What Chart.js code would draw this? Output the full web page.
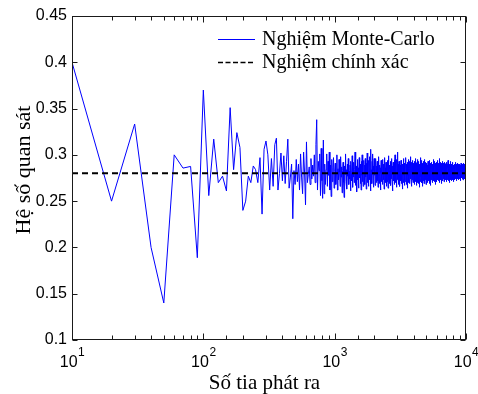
<!DOCTYPE html>
<html>
<head>
<meta charset="utf-8">
<script src="https://cdn.jsdelivr.net/npm/chart.js@4.4.1/dist/chart.umd.min.js"></script>
<style>
  html, body { margin: 0; padding: 0; background: #ffffff; }
  #c { display: block; }
</style>
</head>
<body>
<canvas id="c" width="478" height="394"></canvas>
<script>
// ---------------- DATA ----------------
const seriesLabels = ['Nghiệm Monte-Carlo', 'Nghiệm chính xác'];
const xAxisTitle = 'Số tia phát ra';
const yAxisTitle = 'Hệ số quan sát';

// number of rays: 10, 20, 30, ... 10000 (step 10)
const rayStep = 10;

// Monte-Carlo estimate for each ray count (read/estimated from the picture)
const monteCarloValues = [
  // 10 - 100
  0.4, 0.25, 0.3333, 0.2, 0.14, 0.3, 0.2857, 0.2875, 0.1889, 0.37,
  // 110 - 200
  0.256, 0.317, 0.270, 0.277, 0.261, 0.351, 0.284, 0.324, 0.308, 0.240,
  // 210 - 300
  0.250, 0.277, 0.270, 0.288, 0.284, 0.270, 0.297, 0.236, 0.306, 0.315,
  // 310 - 1000
  0.300, 0.262, 0.296, 0.266, 0.311, 0.318, 0.262, 0.280, 0.302, 0.272,
  0.299, 0.269, 0.293, 0.317, 0.264, 0.276, 0.290, 0.231, 0.283, 0.268,
  0.295, 0.271, 0.290, 0.262, 0.301, 0.276, 0.258, 0.303, 0.281, 0.246,
  0.314, 0.270, 0.279, 0.287, 0.268, 0.296, 0.274, 0.289, 0.277, 0.300,
  0.270, 0.311, 0.338, 0.262, 0.293, 0.283, 0.301, 0.256, 0.307, 0.272,
  0.253, 0.316, 0.258, 0.290, 0.268, 0.284, 0.301, 0.266, 0.293, 0.278,
  0.303, 0.262, 0.289, 0.255, 0.295, 0.271, 0.286, 0.297, 0.264, 0.282,
  // 1010 - 2000
  0.291, 0.268, 0.279, 0.300, 0.262, 0.285, 0.273, 0.295, 0.281, 0.266,
  0.298, 0.276, 0.287, 0.259, 0.283, 0.292, 0.270, 0.254, 0.288, 0.279,
  0.301, 0.271, 0.284, 0.263, 0.290, 0.277, 0.296, 0.268, 0.282, 0.274,
  0.289, 0.261, 0.293, 0.280, 0.272, 0.299, 0.265, 0.286, 0.276, 0.292,
  0.270, 0.284, 0.303, 0.267, 0.279, 0.288, 0.260, 0.283, 0.295, 0.273,
  0.286, 0.264, 0.281, 0.297, 0.275, 0.290, 0.269, 0.284, 0.262, 0.293,
  0.278, 0.300, 0.271, 0.287, 0.266, 0.282, 0.294, 0.274, 0.289, 0.268,
  0.296, 0.276, 0.283, 0.263, 0.291, 0.279, 0.302, 0.270, 0.285, 0.277,
  0.266, 0.294, 0.281, 0.273, 0.298, 0.286, 0.261, 0.290, 0.306, 0.275,
  0.284, 0.269, 0.293, 0.279, 0.301, 0.272, 0.288, 0.265, 0.283, 0.296,
  // 2010 - 3000
  0.278, 0.290, 0.267, 0.285, 0.274, 0.296, 0.281, 0.270, 0.288, 0.276,
  0.293, 0.272, 0.283, 0.265, 0.287, 0.279, 0.298, 0.275, 0.284, 0.269,
  0.289, 0.277, 0.262, 0.286, 0.280, 0.294, 0.271, 0.283, 0.291, 0.274,
  0.282, 0.268, 0.295, 0.278, 0.287, 0.273, 0.290, 0.263, 0.284, 0.279,
  0.297, 0.276, 0.286, 0.270, 0.281, 0.292, 0.266, 0.288, 0.275, 0.283,
  0.271, 0.294, 0.280, 0.287, 0.264, 0.285, 0.277, 0.299, 0.273, 0.282,
  0.289, 0.269, 0.284, 0.276, 0.293, 0.278, 0.286, 0.267, 0.290, 0.280,
  0.274, 0.296, 0.283, 0.271, 0.288, 0.261, 0.285, 0.279, 0.292, 0.276,
  0.287, 0.272, 0.281, 0.294, 0.268, 0.284, 0.278, 0.300, 0.275, 0.286,
  0.270, 0.283, 0.291, 0.277, 0.288, 0.265, 0.282, 0.295, 0.273, 0.285,
  // 3010 - 4000
  0.279, 0.303, 0.274, 0.287, 0.268, 0.290, 0.281, 0.276, 0.293, 0.271,
  0.286, 0.278, 0.291, 0.266, 0.284, 0.275, 0.289, 0.280, 0.272, 0.294,
  0.282, 0.269, 0.287, 0.277, 0.292, 0.273, 0.285, 0.263, 0.288, 0.279,
  0.290, 0.274, 0.283, 0.296, 0.270, 0.286, 0.278, 0.291, 0.267, 0.284,
  0.276, 0.289, 0.281, 0.271, 0.293, 0.279, 0.286, 0.274, 0.297, 0.280,
  0.268, 0.285, 0.277, 0.290, 0.282, 0.272, 0.288, 0.264, 0.284, 0.292,
  0.278, 0.287, 0.270, 0.283, 0.295, 0.276, 0.281, 0.289, 0.273, 0.286,
  0.280, 0.293, 0.269, 0.285, 0.277, 0.290, 0.274, 0.282, 0.298, 0.275,
  0.287, 0.271, 0.284, 0.279, 0.292, 0.266, 0.286, 0.280, 0.273, 0.289,
  0.283, 0.276, 0.294, 0.278, 0.270, 0.288, 0.281, 0.291, 0.274, 0.285,
  // 4010 - 5000
  0.279, 0.290, 0.272, 0.286, 0.277, 0.293, 0.268, 0.284, 0.280, 0.288,
  0.275, 0.283, 0.296, 0.271, 0.287, 0.279, 0.291, 0.274, 0.285, 0.267,
  0.289, 0.281, 0.273, 0.292, 0.278, 0.286, 0.270, 0.284, 0.295, 0.276,
  0.282, 0.290, 0.269, 0.287, 0.279, 0.274, 0.293, 0.281, 0.286, 0.272,
  0.288, 0.277, 0.284, 0.265, 0.290, 0.280, 0.275, 0.297, 0.283, 0.278,
  0.271, 0.286, 0.292, 0.276, 0.283, 0.289, 0.273, 0.281, 0.294, 0.277,
  0.285, 0.270, 0.288, 0.279, 0.291, 0.274, 0.284, 0.266, 0.287, 0.282,
  0.276, 0.293, 0.280, 0.272, 0.289, 0.283, 0.277, 0.290, 0.269, 0.285,
  0.281, 0.288, 0.274, 0.295, 0.279, 0.286, 0.271, 0.284, 0.278, 0.292,
  0.273, 0.287, 0.282, 0.276, 0.290, 0.268, 0.285, 0.280, 0.289, 0.275,
  // 5010 - 6000
  0.284, 0.278, 0.291, 0.273, 0.286, 0.281, 0.276, 0.289, 0.270, 0.283,
  0.287, 0.275, 0.282, 0.293, 0.279, 0.272, 0.288, 0.280, 0.285, 0.274,
  0.290, 0.277, 0.283, 0.269, 0.286, 0.281, 0.294, 0.276, 0.284, 0.279,
  0.272, 0.288, 0.280, 0.285, 0.275, 0.291, 0.278, 0.283, 0.267, 0.286,
  0.282, 0.276, 0.289, 0.279, 0.284, 0.273, 0.292, 0.280, 0.277, 0.287,
  0.274, 0.285, 0.281, 0.290, 0.278, 0.283, 0.270, 0.288, 0.282, 0.276,
  0.289, 0.279, 0.286, 0.272, 0.284, 0.295, 0.277, 0.281, 0.287, 0.274,
  0.283, 0.290, 0.276, 0.285, 0.279, 0.271, 0.288, 0.282, 0.275, 0.293,
  0.280, 0.286, 0.273, 0.284, 0.291, 0.277, 0.282, 0.288, 0.268, 0.285,
  0.278, 0.292, 0.281, 0.275, 0.287, 0.283, 0.276, 0.290, 0.279, 0.284,
  // 6010 - 7000
  0.271, 0.286, 0.282, 0.289, 0.277, 0.284, 0.294, 0.274, 0.281, 0.287,
  0.279, 0.273, 0.288, 0.283, 0.276, 0.291, 0.280, 0.285, 0.272, 0.289,
  0.284, 0.278, 0.282, 0.296, 0.275, 0.286, 0.279, 0.270, 0.287, 0.281,
  0.276, 0.290, 0.283, 0.278, 0.288, 0.274, 0.285, 0.281, 0.292, 0.277,
  0.286, 0.280, 0.273, 0.289, 0.282, 0.277, 0.284, 0.291, 0.269, 0.285,
  0.281, 0.287, 0.276, 0.283, 0.290, 0.279, 0.274, 0.288, 0.282, 0.278,
  0.293, 0.275, 0.285, 0.280, 0.286, 0.272, 0.289, 0.283, 0.277, 0.284,
  0.279, 0.288, 0.274, 0.291, 0.281, 0.286, 0.276, 0.283, 0.287, 0.271,
  0.285, 0.280, 0.290, 0.277, 0.284, 0.278, 0.292, 0.282, 0.275, 0.288,
  0.283, 0.276, 0.286, 0.281, 0.273, 0.289, 0.280, 0.285, 0.278, 0.290,
  // 7010 - 8000
  0.274, 0.287, 0.282, 0.279, 0.291, 0.284, 0.271, 0.286, 0.281, 0.277,
  0.288, 0.283, 0.276, 0.292, 0.280, 0.285, 0.274, 0.289, 0.282, 0.279,
  0.284, 0.273, 0.287, 0.281, 0.278, 0.290, 0.283, 0.276, 0.286, 0.294,
  0.280, 0.285, 0.272, 0.288, 0.282, 0.277, 0.284, 0.279, 0.291, 0.275,
  0.286, 0.281, 0.289, 0.274, 0.283, 0.287, 0.278, 0.282, 0.270, 0.285,
  0.279, 0.290, 0.284, 0.276, 0.288, 0.281, 0.286, 0.273, 0.283, 0.287,
  0.277, 0.282, 0.293, 0.280, 0.275, 0.286, 0.284, 0.279, 0.289, 0.272,
  0.285, 0.281, 0.278, 0.290, 0.283, 0.274, 0.287, 0.282, 0.276, 0.288,
  0.284, 0.279, 0.286, 0.273, 0.289, 0.283, 0.280, 0.291, 0.277, 0.285,
  0.281, 0.288, 0.275, 0.284, 0.279, 0.292, 0.282, 0.276, 0.286, 0.280,
  // 8010 - 9000
  0.287, 0.274, 0.283, 0.289, 0.278, 0.285, 0.281, 0.271, 0.288, 0.284,
  0.279, 0.286, 0.282, 0.277, 0.290, 0.283, 0.275, 0.287, 0.280, 0.285,
  0.273, 0.288, 0.284, 0.281, 0.276, 0.291, 0.279, 0.286, 0.282, 0.278,
  0.289, 0.283, 0.274, 0.285, 0.280, 0.287, 0.277, 0.284, 0.292, 0.281,
  0.276, 0.286, 0.282, 0.279, 0.288, 0.272, 0.285, 0.281, 0.287, 0.278,
  0.284, 0.290, 0.277, 0.283, 0.286, 0.280, 0.275, 0.289, 0.282, 0.285,
  0.279, 0.274, 0.287, 0.283, 0.281, 0.291, 0.278, 0.284, 0.276, 0.288,
  0.282, 0.286, 0.280, 0.273, 0.289, 0.284, 0.279, 0.285, 0.290, 0.277,
  0.283, 0.278, 0.288, 0.282, 0.275, 0.286, 0.281, 0.287, 0.279, 0.284,
  0.290, 0.276, 0.283, 0.285, 0.280, 0.274, 0.288, 0.282, 0.286, 0.278,
  // 9010 - 10000
  0.284, 0.281, 0.277, 0.289, 0.283, 0.287, 0.272, 0.285, 0.280, 0.286,
  0.279, 0.288, 0.283, 0.276, 0.284, 0.281, 0.291, 0.278, 0.285, 0.282,
  0.287, 0.275, 0.282, 0.286, 0.279, 0.289, 0.283, 0.277, 0.284, 0.280,
  0.276, 0.285, 0.290, 0.281, 0.287, 0.278, 0.283, 0.274, 0.288, 0.282,
  0.285, 0.279, 0.284, 0.288, 0.276, 0.282, 0.286, 0.281, 0.273, 0.287,
  0.283, 0.289, 0.278, 0.284, 0.280, 0.286, 0.277, 0.291, 0.282, 0.279,
  0.286, 0.281, 0.275, 0.288, 0.283, 0.279, 0.285, 0.282, 0.287, 0.274,
  0.280, 0.287, 0.284, 0.278, 0.290, 0.283, 0.276, 0.285, 0.281, 0.288,
  0.282, 0.277, 0.286, 0.283, 0.279, 0.289, 0.284, 0.275, 0.287, 0.281,
  0.285, 0.280, 0.288, 0.276, 0.284, 0.282, 0.279, 0.286, 0.273, 0.283
];

// exact solution (horizontal reference) and its x extent
const exactValue = 0.28;
const exactRange = [10, 10000];

// axis ticks
const xMajorTicks = [10, 100, 1000, 10000];
const xTickBase = '10';
const xTickExponents = ['1', '2', '3', '4'];
const yMin = 0.1, yMax = 0.45, yStep = 0.05;

// ---------------- BUILD ----------------
const rayCounts = monteCarloValues.map((_, i) => (i + 1) * rayStep);
const mcPoints = monteCarloValues.map((v, i) => ({ x: rayCounts[i], y: v }));
const exactPoints = exactRange.map(x => ({ x: x, y: exactValue }));

const SANS = '"Liberation Sans", Arial, sans-serif';
const SERIF = '"Liberation Serif", "Times New Roman", serif';

const matlabAxes = {
  id: 'matlabAxes',
  afterDatasetsDraw(chart) {
    const ctx = chart.ctx;
    const a = chart.chartArea;
    const xs = chart.scales.x, ys = chart.scales.y;
    const L = Math.round(a.left) + 0.5, R = Math.round(a.right) - 0.5;
    const T = Math.round(a.top) + 0.5, B = Math.round(a.bottom) - 0.5;
    ctx.save();
    ctx.strokeStyle = '#1a1a1a';
    ctx.lineWidth = 1;
    ctx.setLineDash([]);
    ctx.strokeRect(L, T, R - L, B - T);
    ctx.beginPath();
    // x ticks (major and minor), inward, bottom and top
    xs.ticks.forEach(t => {
      const v = t.value;
      const lg = Math.log10(v);
      const major = Math.abs(lg - Math.round(lg)) < 1e-9;
      const len = major ? 6 : 4;
      const px = Math.round(xs.getPixelForValue(v)) + 0.5;
      if (px < L - 1 || px > R + 1) return;
      ctx.moveTo(px, B); ctx.lineTo(px, B - len);
      ctx.moveTo(px, T); ctx.lineTo(px, T + len);
    });
    // y ticks, inward, left and right
    ys.ticks.forEach(t => {
      const py = Math.round(ys.getPixelForValue(t.value)) + 0.5;
      ctx.moveTo(L, py); ctx.lineTo(L + 5, py);
      ctx.moveTo(R, py); ctx.lineTo(R - 5, py);
    });
    ctx.stroke();

    // x tick labels 10^k
    ctx.fillStyle = '#000';
    ctx.textBaseline = 'alphabetic';
    ctx.textAlign = 'left';
    xMajorTicks.forEach((v, i) => {
      const px = xs.getPixelForValue(v);
      ctx.font = '16px ' + SANS;
      const wb = ctx.measureText(xTickBase).width;
      ctx.font = '12px ' + SANS;
      const we = ctx.measureText(xTickExponents[i]).width;
      const x0 = px - (wb + we) / 2;
      ctx.font = '16px ' + SANS;
      ctx.fillText(xTickBase, x0, a.bottom + 27);
      ctx.font = '12px ' + SANS;
      ctx.fillText(xTickExponents[i], x0 + wb + 0.5, a.bottom + 16);
    });

    // axis titles
    ctx.font = '21px ' + SERIF;
    ctx.textAlign = 'center';
    ctx.fillText(xAxisTitle, 264.5, 389);
    ctx.save();
    ctx.translate(24, 170);
    ctx.rotate(-Math.PI / 2);
    ctx.textBaseline = 'middle';
    ctx.font = '22px ' + SERIF;
    ctx.fillText(yAxisTitle, 0, 0);
    ctx.restore();

    // legend
    const rows = [39, 62];
    chart.data.datasets.forEach((ds, i) => {
      const y = rows[ds.legendRow];
      ctx.beginPath();
      ctx.strokeStyle = ds.borderColor;
      ctx.lineWidth = ds.legendWidth;
      ctx.setLineDash(ds.legendDash);
      ctx.moveTo(218, y + 0.5); ctx.lineTo(255, y + 0.5);
      ctx.stroke();
      ctx.setLineDash([]);
      ctx.fillStyle = '#000';
      ctx.font = '20px ' + SERIF;
      ctx.textAlign = 'left';
      ctx.textBaseline = 'middle';
      ctx.fillText(ds.label, 262, y + 1);
    });
    ctx.restore();
  }
};

new Chart(document.getElementById('c'), {
  type: 'line',
  data: {
    datasets: [
      {
        label: seriesLabels[1],
        data: exactPoints,
        borderColor: '#000000',
        borderWidth: 2,
        borderDash: [6, 4],
        pointRadius: 0,
        fill: false,
        order: 0,
        legendRow: 1,
        legendWidth: 1.5,
        legendDash: [5, 2.5]
      },
      {
        label: seriesLabels[0],
        data: mcPoints,
        borderColor: '#0000ff',
        borderWidth: 1,
        pointRadius: 0,
        fill: false,
        tension: 0,
        order: 1,
        legendRow: 0,
        legendWidth: 1,
        legendDash: []
      }
    ]
  },
  options: {
    responsive: false,
    animation: false,
    devicePixelRatio: 1,
    layout: { padding: { left: 0, right: 12, top: 16, bottom: 0 } },
    plugins: { legend: { display: false }, tooltip: { enabled: false } },
    scales: {
      x: {
        type: 'logarithmic',
        min: 10,
        max: 10000,
        grid: { display: false },
        border: { display: false },
        ticks: { display: false },
        afterFit: s => { s.height = 54; }
      },
      y: {
        type: 'linear',
        min: yMin,
        max: yMax,
        grid: { display: false, drawTicks: false },
        border: { display: false },
        ticks: {
          stepSize: yStep,
          padding: 5,
          color: '#000',
          font: { family: SANS, size: 16 },
          callback: v => String(parseFloat(v.toFixed(2)))
        },
        afterFit: s => { s.width = 72; }
      }
    }
  },
  plugins: [matlabAxes]
});
</script>
</body>
</html>
